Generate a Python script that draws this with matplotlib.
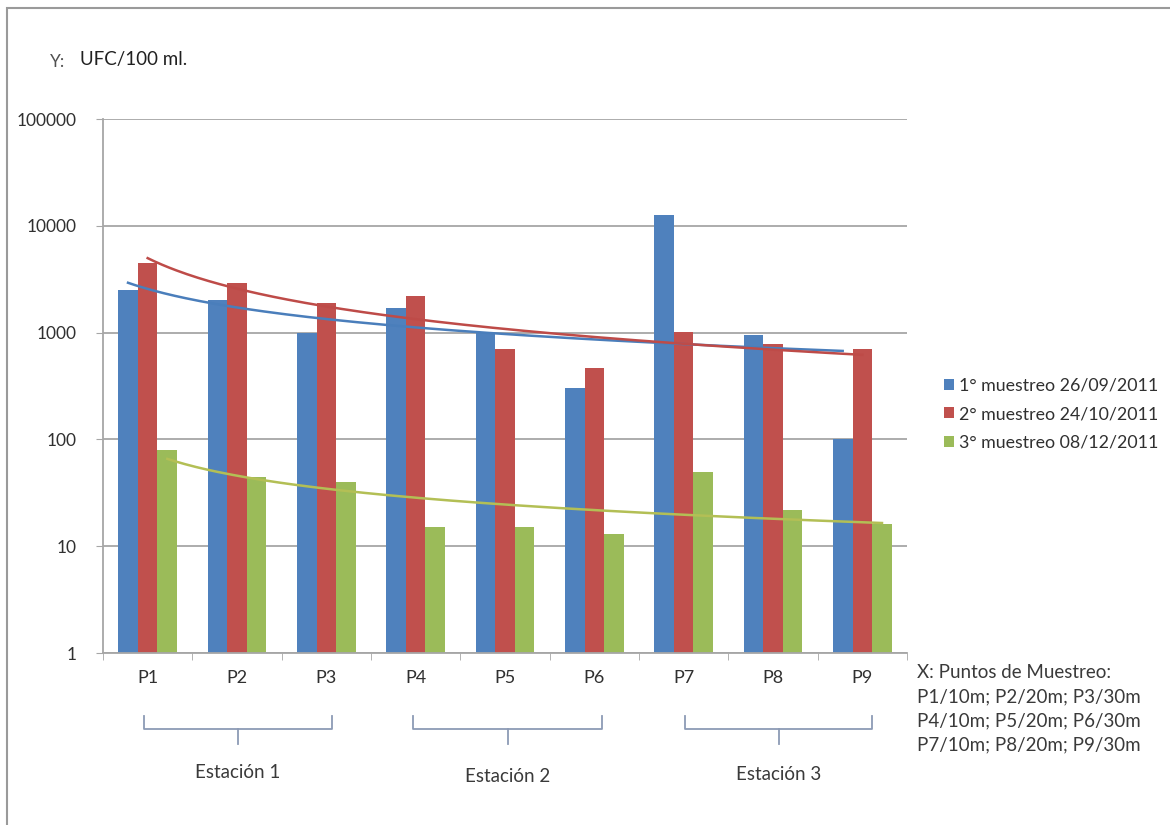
import numpy as np
import matplotlib
matplotlib.use("Agg")
import matplotlib.pyplot as plt
from matplotlib.patches import Rectangle
from matplotlib.lines import Line2D
import matplotlib.transforms as mtransforms

plt.rcParams['font.family'] = ['Lato', 'DejaVu Sans']

puntos = ['P1', 'P2', 'P3', 'P4', 'P5', 'P6', 'P7', 'P8', 'P9']
muestreo1 = [2500, 2000, 1000, 1700, 1000, 300, 12500, 950, 100]
muestreo2 = [4500, 2900, 1900, 2200, 700, 470, 1020, 780, 700]
muestreo3 = [80, 44, 40, 15, 15, 13, 50, 22, 16]
nombres = ['1° muestreo 26/09/2011', '2° muestreo 24/10/2011', '3° muestreo 08/12/2011']
estaciones = ['Estación 1', 'Estación 2', 'Estación 3']
notaX = ['X: Puntos de Muestreo:',
         'P1/10m; P2/20m; P3/30m',
         'P4/10m; P5/20m; P6/30m',
         'P7/10m; P8/20m; P9/30m']

barColors = ['#4f81bd', '#c0504d', '#9bbb59']
trendColors = ['#4a7ebb', '#be4b48', '#b3bf55']
gridGrey = '#a6a6a6'
textGrey = '#3a3a3a'


def powerTrend(values):
    # least squares fit of ln(y) = ln(a) + b ln(x), as a spreadsheet power trendline does
    x = np.arange(1, len(values) + 1)
    b, lnA = np.polyfit(np.log(x), np.log(values), 1)
    return lambda t: np.exp(lnA) * t ** b


fig = plt.figure(figsize=(11.7, 8.25), dpi=100)
ax = fig.add_axes([103 / 1170, 1 - 653 / 825, (907 - 103) / 1170, (653 - 119) / 825])

xPos = np.arange(1, len(puntos) + 1)
barWidth = 0.22
series = [muestreo1, muestreo2, muestreo3]
for k, values in enumerate(series):
    offset = (k - 1) * barWidth
    ax.bar(xPos + offset, values, width=barWidth, color=barColors[k],
           label=nombres[k], zorder=2)

for k, values in enumerate(series):
    offset = (k - 1) * barWidth
    fit = powerTrend(values)
    t = np.linspace(1, len(puntos), 200)
    ax.plot(t + offset, fit(t), color=trendColors[k], lw=1.8, zorder=3)

ax.set_yscale('log')
ax.set_ylim(1, 100000)
ax.set_xlim(0.5, len(puntos) + 0.5)
ax.set_yticks([1, 10, 100, 1000, 10000, 100000])
ax.set_yticklabels(['1', '10', '100', '1000', '10000', '100000'])
ax.yaxis.set_minor_locator(matplotlib.ticker.NullLocator())
ax.set_xticks(xPos)
ax.set_xticklabels(puntos)
ax.set_xticks(np.arange(0.5, len(puntos) + 1, 1), minor=True)
ax.tick_params(axis='x', which='major', length=0, pad=12, labelsize=13, labelcolor='#303030')
ax.tick_params(axis='x', which='minor', length=5, color=gridGrey, direction='out')
ax.tick_params(axis='y', which='major', length=5, color=gridGrey, pad=14,
               labelsize=12.5, labelcolor='#303030')
ax.grid(axis='y', color=gridGrey, lw=1.3, zorder=0)
ax.set_axisbelow(True)
for side in ['top', 'right']:
    ax.spines[side].set_visible(False)
for side in ['left', 'bottom']:
    ax.spines[side].set_color(gridGrey)
    ax.spines[side].set_linewidth(1.3)

# outer chart frame
fig.add_artist(Rectangle((7 / 1170, -0.1), 1.2, 1.1 - 8 / 825, transform=fig.transFigure,
                         fill=False, ec='#9a9a9a', lw=1.5))

fig.text(50 / 1170, 1 - 62 / 825, 'Y:', fontsize=12.5, color='#505050', va='center')
fig.text(80 / 1170, 1 - 60 / 825, 'UFC/100 ml.', fontsize=13.5, color='#202020', va='center')

handles, labels = ax.get_legend_handles_labels()
fig.legend(handles, labels, loc='center left', bbox_to_anchor=(928 / 1170, 1 - 414 / 825),
           frameon=False, fontsize=12.8, handlelength=0.55, handleheight=0.55,
           handletextpad=0.3, labelspacing=0.7, labelcolor='#303030')

for i, line in enumerate(notaX):
    fig.text(917 / 1170, 1 - (673 + 24 * i) / 825, line, fontsize=13.5,
             color=textGrey, va='center')

# station brackets below the category labels
trans = mtransforms.blended_transform_factory(ax.transData, fig.transFigure)
bracketStart = [0.96, 3.97, 7.02]
bracketEnd = [3.06, 6.09, 9.11]
bracketColor = '#8c9bb5'
yTop, yMid, yLow = 1 - 716 / 825, 1 - 729 / 825, 1 - 744 / 825
for name, x0, x1, yLabel in zip(estaciones, bracketStart, bracketEnd, [773, 776, 775]):
    xc = (x0 + x1) / 2
    fig.add_artist(Line2D([x0, x0, x1, x1], [yTop, yMid, yMid, yTop], transform=trans,
                          color=bracketColor, lw=1.3))
    fig.add_artist(Line2D([xc, xc], [yMid, yLow], transform=trans, color=bracketColor, lw=1.3))
    fig.text(xc, 1 - yLabel / 825, name, transform=trans, ha='center', va='center',
             fontsize=13.5, color=textGrey)

fig.savefig('out.png', dpi=100)
